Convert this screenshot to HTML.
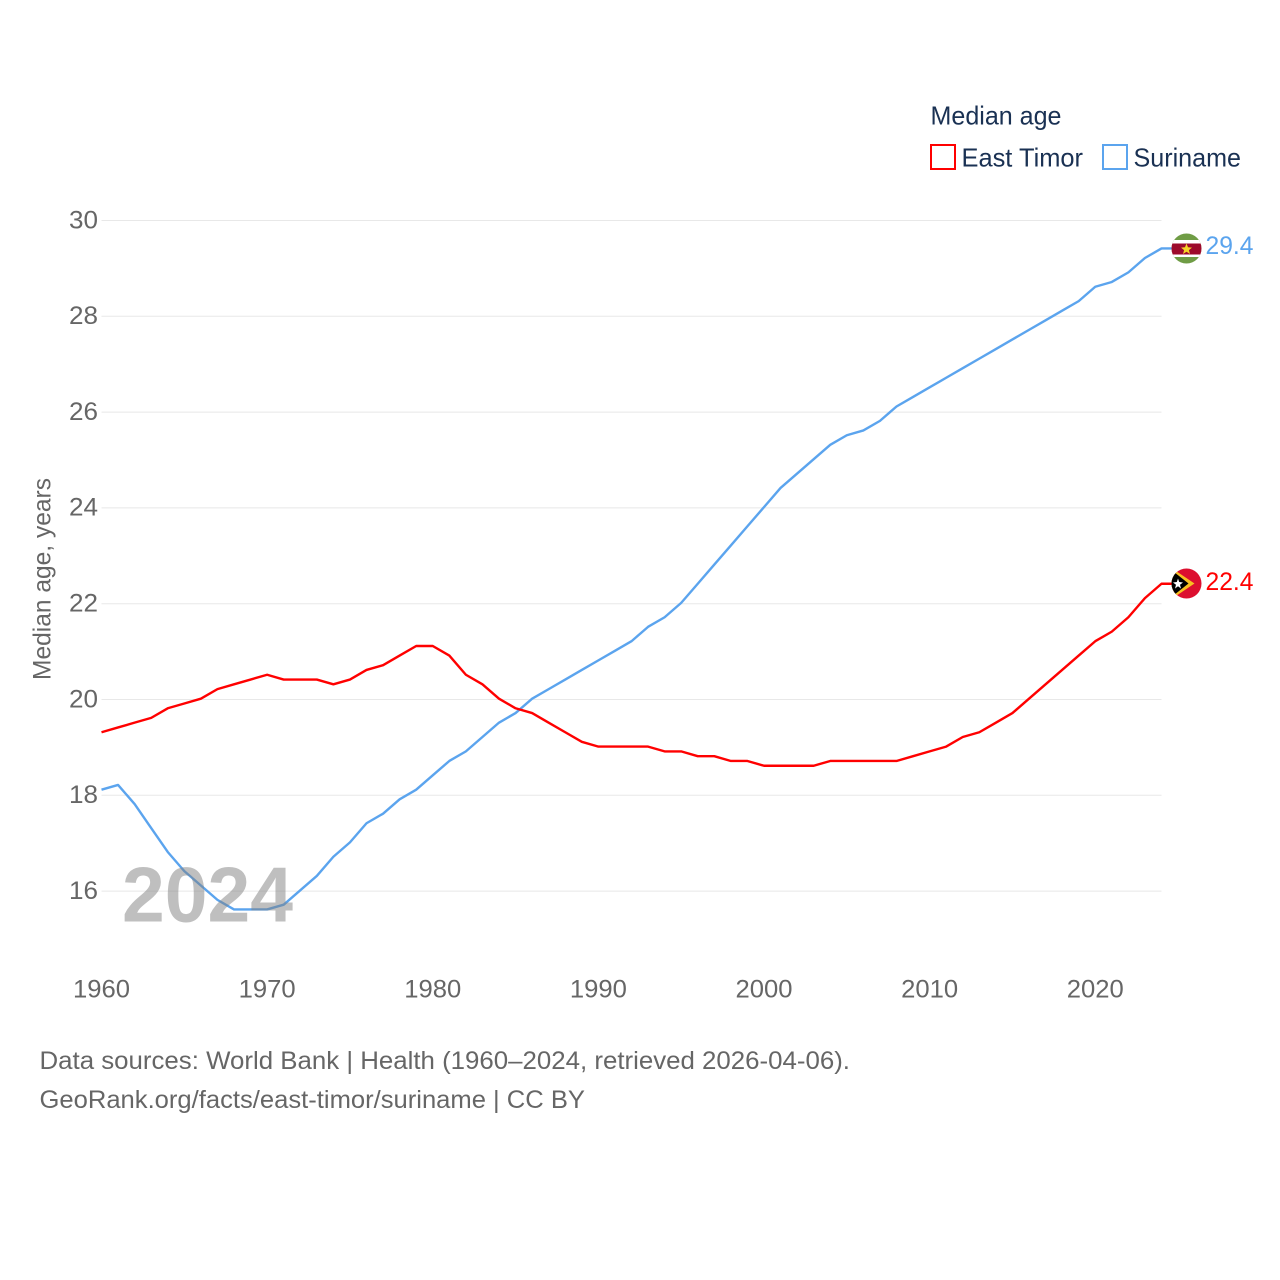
<!DOCTYPE html>
<html lang="en">
<head>
<meta charset="utf-8">
<title>Median age: East Timor and Suriname</title>
<style>
html,body{margin:0;padding:0;background:#fff;}
svg{display:block;}
text{font-family:"Liberation Sans",sans-serif;}
</style>
</head>
<body>
<svg id="chart" xmlns="http://www.w3.org/2000/svg" width="1280" height="1280" viewBox="0 0 1280 1280">
  <rect x="0" y="0" width="1280" height="1280" fill="#ffffff"/>
  <g id="grid"></g>
  <g id="yticks"></g>
  <g id="xticks"></g>
  <text transform="translate(50.5,680) rotate(-90)" font-size="25" fill="#666666" textLength="202" lengthAdjust="spacingAndGlyphs">Median age, years</text>
  <g id="series"></g>
  <text x="122" y="921.5" font-size="78" font-weight="bold" fill="#808080" fill-opacity="0.5" textLength="171" lengthAdjust="spacingAndGlyphs">2024</text>

  <g id="flag-suriname">
    <clipPath id="clip-sr"><circle cx="1186.5" cy="248.5" r="15"/></clipPath>
    <g clip-path="url(#clip-sr)">
      <rect x="1170" y="232" width="34" height="33" fill="#6f9c45"/>
      <rect x="1170" y="240" width="34" height="17" fill="#ffffff"/>
      <rect x="1170" y="243.5" width="34" height="11" fill="#9d0a2b"/>
      <polygon points="1186.5,243.5 1188,247.3 1192,247.6 1188.9,250.1 1190,254 1186.5,251.8 1183,254 1184.1,250.1 1181,247.6 1185,247.3" fill="#f5d327"/>
    </g>
  </g>
  <g id="flag-timor">
    <clipPath id="clip-tl"><circle cx="1186.5" cy="583.5" r="15"/></clipPath>
    <g clip-path="url(#clip-tl)">
      <rect x="1170" y="567" width="34" height="33" fill="#dc0f2f"/>
      <polygon points="1171.5,568 1194.5,583.5 1171.5,599" fill="#f8c020"/>
      <polygon points="1171.5,570 1188.5,583.5 1171.5,597" fill="#000000"/>
      <polygon points="1178,578.5 1179.2,582 1183,582.5 1180,584.8 1181,588.5 1178,586.3 1175,588.5 1176,584.8 1173,582.5 1176.8,582" fill="#ffffff"/>
    </g>
  </g>
  <text x="1205.5" y="254" font-size="25" fill="#5ba4ee" textLength="48" lengthAdjust="spacingAndGlyphs">29.4</text>
  <text x="1205.5" y="590" font-size="25" fill="#ff0000" textLength="48" lengthAdjust="spacingAndGlyphs">22.4</text>

  <g>
    <text x="930.5" y="124.5" font-size="26" fill="#1a3153" textLength="131" lengthAdjust="spacingAndGlyphs">Median age</text>
    <rect x="931" y="145" width="24" height="24" fill="none" stroke="#ff0000" stroke-width="2"/>
    <text x="961.5" y="166.5" font-size="26" fill="#1a3153" textLength="121.5" lengthAdjust="spacingAndGlyphs">East Timor</text>
    <rect x="1103" y="145" width="24" height="24" fill="none" stroke="#5ba4ee" stroke-width="2"/>
    <text x="1133.5" y="166.5" font-size="26" fill="#1a3153" textLength="107.5" lengthAdjust="spacingAndGlyphs">Suriname</text>
  </g>

  <text x="39.5" y="1069" font-size="25" fill="#666666" textLength="810.5" lengthAdjust="spacingAndGlyphs">Data sources: World Bank | Health (1960–2024, retrieved 2026-04-06).</text>
  <text x="39.5" y="1108" font-size="25" fill="#666666" textLength="545.5" lengthAdjust="spacingAndGlyphs">GeoRank.org/facts/east-timor/suriname | CC BY</text>
</svg>
<script>
const firstYear = 1960;
const yTickValues = [16, 18, 20, 22, 24, 26, 28, 30];
const xTickValues = [1960, 1970, 1980, 1990, 2000, 2010, 2020];
const eastTimor = [19.3,19.4,19.5,19.6,19.8,19.9,20.0,20.2,20.3,20.4,
  20.5,20.4,20.4,20.4,20.3,20.4,20.6,20.7,20.9,21.1,
  21.1,20.9,20.5,20.3,20.0,19.8,19.7,19.5,19.3,19.1,
  19.0,19.0,19.0,19.0,18.9,18.9,18.8,18.8,18.7,18.7,
  18.6,18.6,18.6,18.6,18.7,18.7,18.7,18.7,18.7,18.8,
  18.9,19.0,19.2,19.3,19.5,19.7,20.0,20.3,20.6,20.9,
  21.2,21.4,21.7,22.1,22.4];
const suriname = [18.1,18.2,17.8,17.3,16.8,16.4,16.1,15.8,15.6,15.6,
  15.6,15.7,16.0,16.3,16.7,17.0,17.4,17.6,17.9,18.1,
  18.4,18.7,18.9,19.2,19.5,19.7,20.0,20.2,20.4,20.6,
  20.8,21.0,21.2,21.5,21.7,22.0,22.4,22.8,23.2,23.6,
  24.0,24.4,24.7,25.0,25.3,25.5,25.6,25.8,26.1,26.3,
  26.5,26.7,26.9,27.1,27.3,27.5,27.7,27.9,28.1,28.3,
  28.6,28.7,28.9,29.2,29.4];

const NS = 'http://www.w3.org/2000/svg';
const xScale = function (year) { return 101.5 + (year - 1960) * (1060 / 64); };
const yScale = function (v) { return 220.5 + (30 - v) * 47.9; };
const seriesY = function (v) { return yScale(v) - 0.8; };

function make(tag, parent, attrs, text) {
  const el = document.createElementNS(NS, tag);
  Object.keys(attrs).forEach(function (k) { el.setAttribute(k, attrs[k]); });
  if (text !== undefined) el.textContent = text;
  parent.appendChild(el);
  return el;
}

const grid = document.getElementById('grid');
const yticks = document.getElementById('yticks');
const xticks = document.getElementById('xticks');
const seriesGroup = document.getElementById('series');

yTickValues.forEach(function (v) {
  const line = make('line', grid, { x1: 101.5, x2: 1161.5, y1: yScale(v), y2: yScale(v), stroke: '#e8e8e8', 'stroke-width': 1 });
  
  
  const label = make('text', yticks, { x: 98, y: yScale(v) + 7.8, 'font-size': 25, fill: '#666666', 'text-anchor': 'end', textLength: 29, lengthAdjust: 'spacingAndGlyphs' }, String(v));
  
  
});

xTickValues.forEach(function (y) {
  const label = make('text', xticks, { x: xScale(y), y: 997.5, 'font-size': 25, fill: '#666666', 'text-anchor': 'middle', textLength: 57, lengthAdjust: 'spacingAndGlyphs' }, String(y));
  
  
});

function drawSeries(values, color, name) {
  const pts = values.map(function (v, i) { return xScale(firstYear + i).toFixed(2) + ',' + seriesY(v).toFixed(2); });
  const lastValue = values[values.length - 1];
  pts.push('1172,' + seriesY(lastValue).toFixed(2));
  const line = make('polyline', seriesGroup, { points: pts.join(' '), fill: 'none', stroke: color, 'stroke-width': 2.4, 'stroke-linejoin': 'round' });
  
  
}
drawSeries(suriname, '#5ba4ee', 'suriname-line');
drawSeries(eastTimor, '#ff0000', 'east-timor-line');
</script>
</body>
</html>
